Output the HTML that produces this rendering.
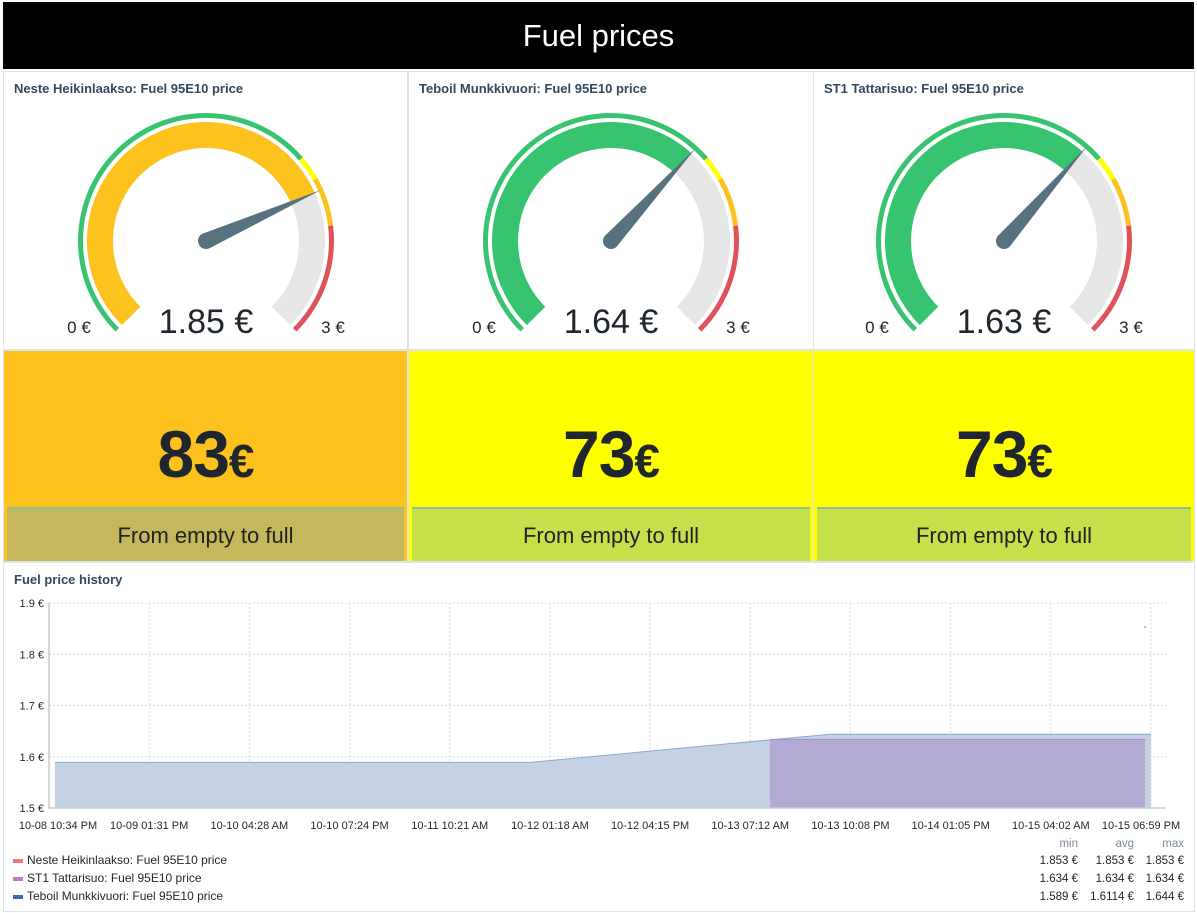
<!DOCTYPE html>
<html><head><meta charset="utf-8">
<style>
html,body{margin:0;padding:0;background:#fff;width:1197px;height:913px;overflow:hidden;font-family:"Liberation Sans",sans-serif;}
.abs{position:absolute;box-sizing:border-box;}
.panel{border:1px solid #dfe3e8;background:#fff;}
.ptitle{position:absolute;left:10px;top:9px;font-size:13px;font-weight:bold;color:#34495e;}
.big{position:absolute;left:0;right:0;top:65px;text-align:center;font-weight:bold;color:#1f262d;font-size:66px;letter-spacing:-1px;}
.big span{font-size:46px;}
.strip{position:absolute;left:3px;right:3px;top:156px;height:52px;border-top:2px solid #8fbf9a;text-align:center;font-size:22px;color:#222;line-height:54px;}
</style></head><body>
<div class="abs" style="left:3px;top:2px;width:1191px;height:67px;background:#000;color:#fff;font-size:31px;text-align:center;line-height:68px;">Fuel prices</div>

<div class="abs panel" style="left:3px;top:71px;width:405px;height:279px;"><div class="ptitle">Neste Heikinlaakso: Fuel 95E10 price</div><svg id="g0" width="405" height="279" style="position:absolute;left:0;top:0"></svg></div>
<div class="abs panel" style="left:408px;top:71px;width:406px;height:279px;"><div class="ptitle">Teboil Munkkivuori: Fuel 95E10 price</div><svg id="g1" width="406" height="279" style="position:absolute;left:0;top:0"></svg></div>
<div class="abs panel" style="left:813px;top:71px;width:382px;height:279px;"><div class="ptitle">ST1 Tattarisuo: Fuel 95E10 price</div><svg id="g2" width="382" height="279" style="position:absolute;left:0;top:0"></svg></div>

<div class="abs panel" style="left:3px;top:350px;width:405px;height:212px;background:#fdc21e;"><div class="big">83<span>€</span></div><div class="strip" style="background:#c5b75b;">From empty to full</div></div>
<div class="abs panel" style="left:408px;top:350px;width:406px;height:212px;background:#ffff00;"><div class="big">73<span>€</span></div><div class="strip" style="background:#c5e04a;">From empty to full</div></div>
<div class="abs panel" style="left:813px;top:350px;width:382px;height:212px;background:#ffff00;"><div class="big">73<span>€</span></div><div class="strip" style="background:#c5e04a;">From empty to full</div></div>

<div class="abs panel" style="left:3px;top:562px;width:1192px;height:350px;"><div class="ptitle">Fuel price history</div></div>
<svg id="chart" class="abs" width="1197" height="913" style="left:0;top:0;pointer-events:none"></svg>

<script>
// gauge data
const gaugeValues=[1.85,1.64,1.63];
const gaugeLabels=["1.85 €","1.64 €","1.63 €"];
const gaugeThresholds=[1.7,1.8,2.0];
const gaugeThresholdColors=["#37c370","#ffff00","#fcc21d","#e0515a"];
const gaugeMinLabel="0 €", gaugeMaxLabel="3 €";
// chart data
const xTickLabels=["10-08 10:34 PM","10-09 01:31 PM","10-10 04:28 AM","10-10 07:24 PM","10-11 10:21 AM","10-12 01:18 AM","10-12 04:15 PM","10-13 07:12 AM","10-13 10:08 PM","10-14 01:05 PM","10-15 04:02 AM","10-15 06:59 PM"];
const yTicks=[1.5,1.6,1.7,1.8,1.9];
const tebHours=[0.8,65.3,106,149.5];
const tebVals=[1.589,1.589,1.644,1.644];
const st1Hours=[97.8,148.7];
const st1Vals=[1.634,1.634];
const nesteHours=[148.7];
const nesteVals=[1.853];
const legendNames=["Neste Heikinlaakso: Fuel 95E10 price","ST1 Tattarisuo: Fuel 95E10 price","Teboil Munkkivuori: Fuel 95E10 price"];
const legendColors=["#f2777a","#c879bd","#3f6cb0"];
const legendMin=["1.853 €","1.634 €","1.589 €"];
const legendAvg=["1.853 €","1.634 €","1.6114 €"];
const legendMax=["1.853 €","1.634 €","1.644 €"];

const NS="http://www.w3.org/2000/svg";
function mk(p,t,a){const e=document.createElementNS(NS,t);for(const k in a)e.setAttribute(k,a[k]);p.appendChild(e);return e;}
const gLo=0.07,gHi=2.46;
function ang(v){const t=Math.max(0,Math.min(1,(v-gLo)/(gHi-gLo)));return -135+t*270;}
function pt(cx,cy,r,a){const rad=a*Math.PI/180;return [cx+r*Math.sin(rad),cy-r*Math.cos(rad)];}
function arc(cx,cy,r1,r2,a1,a2){const l=(a2-a1)>180?1:0;const p1=pt(cx,cy,r2,a1),p2=pt(cx,cy,r2,a2),p3=pt(cx,cy,r1,a2),p4=pt(cx,cy,r1,a1);
return `M${p1[0]},${p1[1]}A${r2},${r2} 0 ${l} 1 ${p2[0]},${p2[1]}L${p3[0]},${p3[1]}A${r1},${r1} 0 ${l} 0 ${p4[0]},${p4[1]}Z`;}
const gcx=[202,202,190];
gaugeValues.forEach((v,i)=>{
  const s=document.getElementById('g'+i),cx=gcx[i],cy=169;
  const bounds=[-135].concat(gaugeThresholds.map(ang),[135]);
  for(let k=0;k<4;k++){const e=mk(s,'path',{d:arc(cx,cy,123,128,bounds[k],bounds[k+1]),fill:gaugeThresholdColors[k]});
    
    }
  let col=gaugeThresholdColors[0];gaugeThresholds.forEach((t,k)=>{if(v>=t)col=gaugeThresholdColors[k+1];});
  const va=ang(v);
  const f=mk(s,'path',{d:arc(cx,cy,93,119,-135,va),fill:col});
  
  
  const g=mk(s,'path',{d:arc(cx,cy,93,119,va,135),fill:"#e6e6e6"});
  
  
  const tip=pt(cx,cy,126,va),b1=pt(cx,cy,8,va-90),b2=pt(cx,cy,8,va+90);
  const n=mk(s,'path',{d:`M${b1[0]},${b1[1]}L${tip[0]},${tip[1]}L${b2[0]},${b2[1]}A8,8 0 0 1 ${b1[0]},${b1[1]}Z`,fill:"#58717f"});
  
  
  const t=mk(s,'text',{x:cx,y:261,'text-anchor':'middle','font-size':34,fill:'#1f262d'});t.textContent=gaugeLabels[i];
  
  
  const a=mk(s,'text',{x:cx-127,y:261,'text-anchor':'middle','font-size':17,fill:'#1f262d'});a.textContent=gaugeMinLabel;
  
  
  const b=mk(s,'text',{x:cx+127,y:261,'text-anchor':'middle','font-size':17,fill:'#1f262d'});b.textContent=gaugeMaxLabel;
  
  
});

const c=document.getElementById('chart');
const X0=49,X1=1151,Y0=808,Y1=603,H=149.5;
const xs=h=>X0+h/H*(X1-X0), ys=v=>Y0-(v-1.5)/0.4*(Y0-Y1);
yTicks.forEach(v=>{
  if(v>1.5){const l=mk(c,'line',{x1:X0,x2:1166,y1:ys(v),y2:ys(v),stroke:'#d5d9de','stroke-dasharray':'2,2'});
    
    }
  const t=mk(c,'text',{x:44,y:ys(v)+4,'text-anchor':'end','font-size':11,fill:'#1f262d'});t.textContent=v.toFixed(1)+' €';
  
  
});
xTickLabels.forEach((s,i)=>{
  const x=X0+i*(X1-X0)/(xTickLabels.length-1);
  if(i>0){const l=mk(c,'line',{x1:x,x2:x,y1:Y1,y2:Y0,stroke:'#d5d9de','stroke-dasharray':'2,2'});
    
    }
  const lx=i==0?58:(i==xTickLabels.length-1?x-10:x);
  const t=mk(c,'text',{x:lx,y:829,'text-anchor':'middle','font-size':11,fill:'#1f262d'});t.textContent=s;
  
  
});
function area(hs,vs,fill,stroke,name){
  let d=`M${xs(hs[0])},${Y0}`;hs.forEach((h,i)=>d+=`L${xs(h)},${ys(vs[i])}`);d+=`L${xs(hs[hs.length-1])},${Y0}Z`;
  const e=mk(c,'path',{d:d,fill:fill});
  
  
  let ld='';hs.forEach((h,i)=>ld+=(i?'L':'M')+xs(h)+','+ys(vs[i]));
  const l=mk(c,'path',{d:ld,fill:'none',stroke:stroke,'stroke-width':1});
  
  
}
area(tebHours,tebVals,'#c5d2e3','#8ea6cf','teboil-series');
area(st1Hours,st1Vals,'rgba(172,155,206,0.72)','#a58bc4','st1-series');
nesteHours.forEach((h,i)=>{const p=mk(c,'circle',{cx:xs(h),cy:ys(nesteVals[i]),r:1.2,fill:'#f4a0a3'});
  
  });
const ax=mk(c,'path',{d:`M${X0},${Y1}L${X0},${Y0}L1166,${Y0}`,fill:'none',stroke:'#c8ccd0','stroke-width':1.5});


[['min',1078],['avg',1134],['max',1184]].forEach(([s,x])=>{const t=mk(c,'text',{x:x,y:847,'text-anchor':'end','font-size':11.5,fill:'#7c8b9c'});t.textContent=s;
  
  });
legendNames.forEach((n,i)=>{
  const y=864+i*18;
  const r=mk(c,'rect',{x:13,y:y-5,width:10,height:4,fill:legendColors[i]});
  
  
  const t=mk(c,'text',{x:27,y:y,'font-size':12,fill:'#1f262d'});t.textContent=n;
  
  
  [[legendMin,1078],[legendAvg,1134],[legendMax,1184]].forEach(([arr,x])=>{const v=mk(c,'text',{x:x,y:y,'text-anchor':'end','font-size':11.5,fill:'#1f262d'});v.textContent=arr[i];
    
    });
});
</script>
</body></html>
